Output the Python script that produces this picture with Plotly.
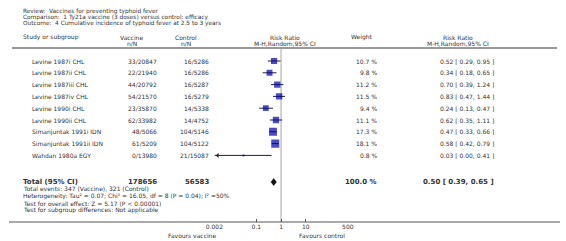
import plotly.graph_objects as go

W, H = 566, 241

title_lines = ["Review:  Vaccines for preventing typhoid fever",
               "Comparison:  1 Ty21a vaccine (3 doses) versus control: efficacy",
               "Outcome:  4 Cumulative incidence of typhoid fever at 2.5 to 3 years"]

studies = ["Levine 1987i CHL", "Levine 1987ii CHL", "Levine 1987iii CHL", "Levine 1987iv CHL",
           "Levine 1990i CHL", "Levine 1990ii CHL", "Simanjuntak 1991i IDN", "Simanjuntak 1991ii IDN",
           "Wahdan 1980a EGY"]
vac_events = [33, 22, 44, 54, 23, 62, 48, 61, 0]
vac_total = [20847, 21940, 20792, 21570, 35870, 33982, 5066, 5209, 13980]
ctl_events = [16, 16, 16, 16, 14, 14, 104, 104, 21]
ctl_total = [5286, 5286, 5287, 5279, 5338, 4752, 5146, 5122, 15087]
weights = [10.7, 9.8, 11.2, 11.5, 9.4, 11.1, 17.3, 18.1, 0.8]
rr = [0.52, 0.34, 0.70, 0.83, 0.24, 0.62, 0.47, 0.58, 0.03]
rr_lo = [0.29, 0.18, 0.39, 0.47, 0.13, 0.35, 0.33, 0.42, 0.00]
rr_hi = [0.95, 0.65, 1.24, 1.44, 0.47, 1.11, 0.66, 0.79, 0.41]

total_vac_n = 178656
total_ctl_n = 56583
total_weight = 100.0
total_rr, total_lo, total_hi = 0.50, 0.39, 0.65

footer_lines = ["Total events: 347 (Vaccine), 321 (Control)",
                "Heterogeneity: Tau\u00b2 = 0.07; Chi\u00b2 = 16.05, df = 8 (P = 0.04); I\u00b2 =50%",
                "Test for overall effect: Z = 5.17 (P < 0.00001)",
                "Test for subgroup differences: Not applicable"]

tick_vals = [0.002, 0.1, 1, 10, 500]
tick_text = ["0.002", "0.1", "1", "10", "500"]
x_min, x_max = 0.002, 500

# ---- layout helpers (pixel -> paper) ----
FONT = "DejaVu Sans"
TXT = "#333333"
def px(x): return x / W
def py(y): return 1 - y / H

row_y0, row_dy = 61, 11.8
row_ys = [row_y0 + i * row_dy for i in range(len(studies))]
total_y = 182
axis_y = 222

ann = []
def text(x, y, s, anchor="left", size=6, bold=False, color=TXT):
    if bold:
        s = "<b>" + s + "</b>"
    ann.append(dict(x=px(x), y=py(y), xref="paper", yref="paper", text=s, showarrow=False,
                    xanchor=anchor, yanchor="middle", borderpad=0,
                    font=dict(family=FONT, size=size, color=color)))

for i, t in enumerate(title_lines):
    text(13, 11.7 + i * 5.8, t, size=5.8)

# headers
text(13, 37, "Study or subgroup")
text(126, 37, "Vaccine", "center"); text(126, 43.5, "n/N", "center")
text(182, 37, "Control", "center"); text(182, 43.5, "n/N", "center")
text(283, 37, "Risk Ratio", "center"); text(283, 43.5, "M-H,Random,95% CI", "center")
text(363, 37, "Weight", "center")
text(461, 37, "Risk Ratio", "center"); text(461, 43.5, "M-H,Random,95% CI", "center")

for i, s in enumerate(studies):
    y = row_ys[i]
    text(23, y, s)
    text(153, y, f"{vac_events[i]}/{vac_total[i]}", "right")
    text(206, y, f"{ctl_events[i]}/{ctl_total[i]}", "right")
    text(379, y, f"{weights[i]:.1f} %", "right")
    text(499, y, f"{rr[i]:.2f} [ {rr_lo[i]:.2f}, {rr_hi[i]:.2f} ]", "right")

text(13, total_y, "Total (95% CI)", size=7, bold=True)
text(153, total_y, f"{total_vac_n}", "right", size=7, bold=True)
text(206, total_y, f"{total_ctl_n}", "right", size=7, bold=True)
text(379, total_y, f"{total_weight:.1f} %", "right", size=7, bold=True)
text(499, total_y, f"{total_rr:.2f} [ {total_lo:.2f}, {total_hi:.2f} ]", "right", size=7, bold=True)

for i, t in enumerate(footer_lines):
    text(13, 188.5 + i * 7.3, t)

text(188, 235.5, "Favours vaccine", "center")
text(322, 235.5, "Favours control", "center")

fig = go.Figure()

# vertical line of no effect
fig.add_trace(go.Scatter(x=[1, 1], y=[49, axis_y], mode="lines",
                         line=dict(color="#d0d0d0", width=2), hoverinfo="skip"))

# CI lines
cx, cy = [], []
for i in range(len(studies)):
    lo = max(rr_lo[i], x_min)
    cx += [lo, rr_hi[i], None]
    cy += [row_ys[i], row_ys[i], None]
fig.add_trace(go.Scatter(x=cx, y=cy, mode="lines", line=dict(color="#222222", width=1),
                         hoverinfo="skip"))

# arrows for truncated CIs
ax_, ay_ = [], []
for i in range(len(studies)):
    if rr_lo[i] < x_min:
        ax_.append(x_min * 1.35); ay_.append(row_ys[i])
fig.add_trace(go.Scatter(x=ax_, y=ay_, mode="markers",
                         marker=dict(symbol="triangle-left", size=4, color="#222222"),
                         hoverinfo="skip"))

# squares
sizes = [max(1.9 * w ** 0.5, 2) for w in weights]
fig.add_trace(go.Scatter(x=rr, y=row_ys, mode="markers",
                         marker=dict(symbol="square", size=sizes, color="#0000a8",
                                     line=dict(width=0)), hoverinfo="skip"))

# diamond
fig.add_trace(go.Scatter(x=[total_lo, total_rr, total_hi, total_rr, total_lo],
                         y=[total_y, total_y - 3.5, total_y, total_y + 3.5, total_y],
                         mode="lines", fill="toself", fillcolor="#111111",
                         line=dict(color="#111111", width=0.5), hoverinfo="skip"))

shapes = [
    dict(type="line", xref="paper", yref="paper", x0=px(3), x1=px(563), y0=py(48), y1=py(48),
         line=dict(color="#999999", width=2)),
    dict(type="line", xref="paper", yref="paper", x0=0, x1=1, y0=py(axis_y), y1=py(axis_y),
         line=dict(color="#555555", width=1)),
]

fig.update_layout(
    width=W, height=H, margin=dict(l=0, r=0, t=0, b=0),
    paper_bgcolor="white", plot_bgcolor="rgba(0,0,0,0)", showlegend=False,
    annotations=ann, shapes=shapes, hovermode=False,
    xaxis=dict(type="log", range=[-2.69897, 2.69897], domain=[px(211), px(348)],
               tickvals=tick_vals, ticktext=tick_text, ticks="inside", ticklen=3,
               tickcolor="#555555", showgrid=False, zeroline=False, showline=False,
               tickfont=dict(family=FONT, size=6, color=TXT), fixedrange=True),
    yaxis=dict(range=[axis_y, 0], domain=[1 - axis_y / H, 1], visible=False, fixedrange=True),
)

fig.write_html("out.html", config={"displayModeBar": False},
               post_script="document.body.style.margin='0';")
